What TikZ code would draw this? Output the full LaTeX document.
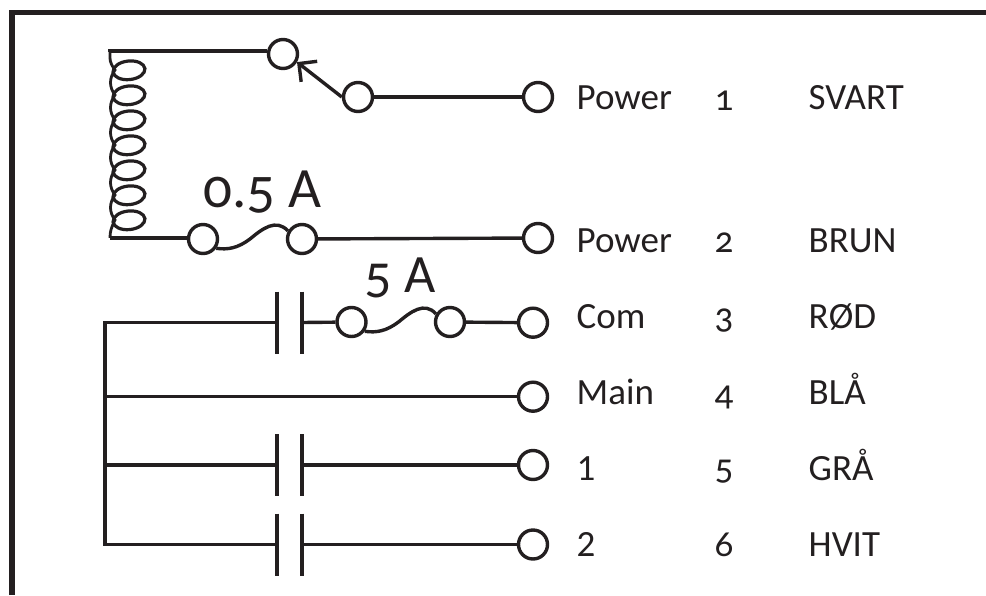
\documentclass[tikz,border=0pt]{standalone}
\usepackage{fontspec}
\setmainfont{Carlito}
\newfontfamily\oldnum[Numbers=OldStyle]{Carlito}
\usetikzlibrary{arrows.meta}
\definecolor{ink}{HTML}{231F20}

\begin{document}
\begin{tikzpicture}[x=1pt,y=-1pt,ink,line width=3.4pt,
    term/.style={draw,circle,inner sep=0pt,minimum size=29pt},
    lbl/.style={anchor=base west,inner sep=0pt,font=\fontsize{37}{40}\selectfont},
    num/.style={anchor=base west,inner sep=0pt,font=\fontsize{37}{40}\selectfont\oldnum},
    amp/.style={anchor=base west,inner sep=0pt}]
      \useasboundingbox (0,0) rectangle (986,595);
      \draw[line width=5.5pt] (12,595) -- (12,12.5) -- (986,12.5);
      % contact and coil
      \node[term] (contact) at (283,54) {};
      \node[term] (swpole) at (358,97) {};
      \node[term] (pow1) at (538,97) {};
      \node[term] (pow2) at (538,238) {};
      \node[term] (fusea) at (203,239) {};
      \node[term] (fuseb) at (302,239) {};
      \coordinate (coiltop) at (110,52);
      \coordinate (coilbot) at (110,238);
      \draw (contact.170) -- (contact.170-|coiltop) -- (coiltop);
      \draw (coilbot) -- (fusea.west|-coilbot);
      \draw (fuseb) -- (pow2);
      \draw (swpole) -- (pow1);
      \draw[-{Straight Barb[length=13pt,width=24pt,angle'=90]}] (swpole.west) -- (contact.-30);
      \draw[line width=2.8pt] (coiltop) -- (110,58) .. controls (110,62) and (112,66) .. (115,70)
      \foreach \y in {70,95,...,195} { .. controls (109,\y+8) and (109,\y+17) .. (115,\y+25) }
      .. controls (111,228) and (110,232) .. (coilbot);
      \foreach \y in {70.3,95.3,...,221} {
        \draw[line width=3.2pt,rotate around={6:(129,\y)}] (129,\y) ellipse (16 and 9.3);
      }
      \draw (fusea.-35) .. controls (228,250) and (238,248) .. (250,239)
      .. controls (262,229) and (276,218) .. (fuseb.150);
      % contacts
      \node[term] (com) at (533,322.7) {};
      \node[term] (main) at (533,396.7) {};
      \node[term] (no1) at (533,465) {};
      \node[term] (no2) at (533,544.5) {};
      \node[term] (fusec) at (351.5,322) {};
      \node[term] (fused) at (450,322) {};
      \coordinate (busa) at (105,322.5);
      \coordinate (busb) at (105,544.5);
      \draw (fused) -- (com);
      \draw (main) -- (main-|busa);
      \draw (fusec.-35) .. controls (376.5,333) and (386.5,331) .. (398.5,322)
      .. controls (410.5,312) and (424.5,301) .. (fused.150);
      \foreach \n/\y in {a/322.5,b/465,c/544.5} {
        \coordinate (pla\n) at (277,\y);
        \coordinate (plb\n) at (302,\y);
        \draw (pla\n)+(0,-31) -- +(0,31);
        \draw (plb\n)+(0,-31) -- +(0,31);
      }
      \draw (plaa) -- (busa) -- (busb) -- (plac);
      \draw (plab) -- (plab-|busa);
      \draw (plba) -- (fusec);
      \draw (plbb) -- (no1);
      \draw (plbc) -- (no2);
      % labels
      \node[amp,font=\fontsize{57}{60}\selectfont\oldnum] (amplo) at (202,207.5) {0.5 A};
      \node[amp,font=\fontsize{54}{56}\selectfont\oldnum] (amphi) at (363,292.5) {5 A};
      \node[lbl] (tpow1) at (575,109.5) {Power};
      \node[lbl] (tpow2) at (575,252.5) {Power};
      \node[lbl] (tcom) at (575,328) {Com};
      \node[lbl] (tmain) at (575,404) {Main};
      \node[lbl] (tno1) at (575,480.5) {1};
      \node[lbl] (tno2) at (575,556) {2};
      \node[num] (na) at (713,110) {1};
      \node[num] (nb) at (713,252.7) {2};
      \node[num] (nc) at (713,328) {3};
      \node[num] (nd) at (713,405) {4};
      \node[num] (ne) at (713,479) {5};
      \node[num] (nf) at (713,556.5) {6};
      \node[lbl] (ca) at (807,109.5) {SVART};
      \node[lbl] (cb) at (807,252.5) {BRUN};
      \node[lbl] (cc) at (807,328) {RØD};
      \node[lbl] (cd) at (807,404) {BLÅ};
      \node[lbl] (ce) at (807,480.5) {GRÅ};
      \node[lbl] (cf) at (807,556) {HVIT};
    \end{tikzpicture}
\end{document}
